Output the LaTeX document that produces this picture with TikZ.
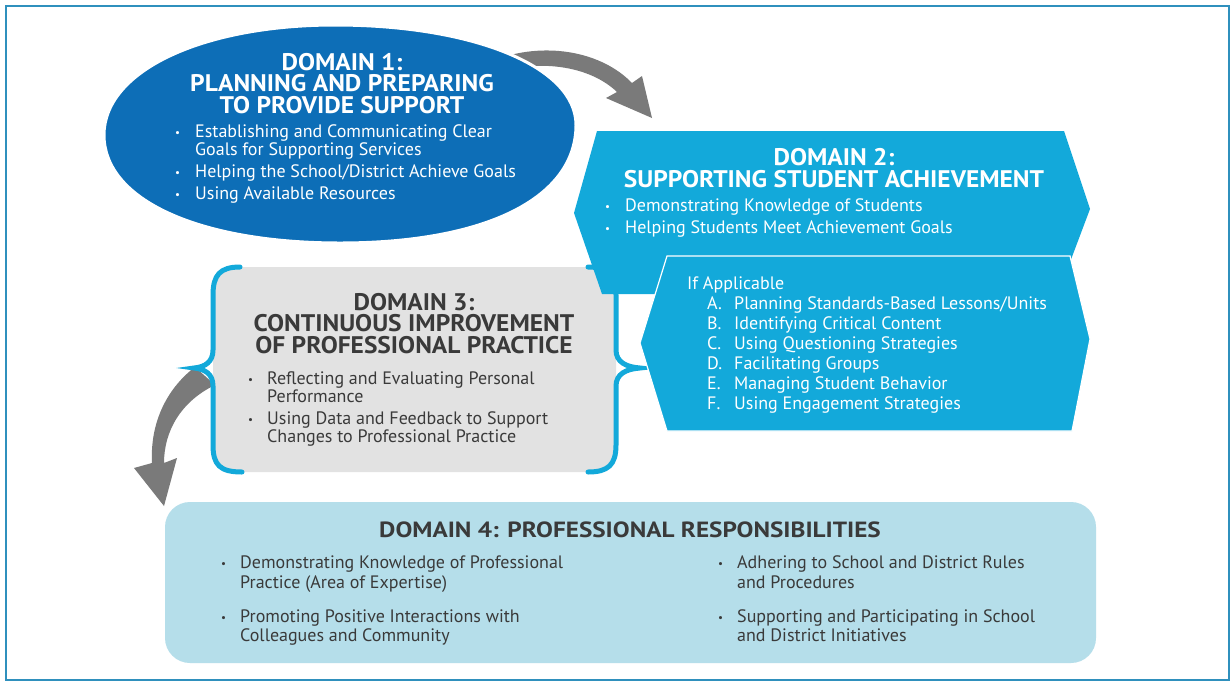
\documentclass[tikz,border=0pt]{standalone}
\usepackage{fontspec}
\setmainfont{PT Sans}
\newfontfamily\ttlfont[FakeStretch=1.06]{PT Sans}
\newfontfamily\ttlfontw[FakeStretch=1.145]{PT Sans}
\definecolor{dblue}{HTML}{0D6EB7}
\definecolor{dcyan}{HTML}{13A9DA}
\definecolor{dgray}{HTML}{E2E2E2}
\definecolor{dlight}{HTML}{B5DEEA}
\definecolor{agray}{HTML}{7A7A7A}
\definecolor{frameblue}{HTML}{2F90BD}
\definecolor{dtext}{HTML}{3A3A3A}
\newcommand\bul[1]{\makebox[#1][l]{\raisebox{0.3pt}{\fontsize{11}{11}\selectfont\textbullet}}}
\newcommand\lett[1]{\makebox[27pt][l]{#1}}
\begin{document}
\begin{tikzpicture}[x=1pt,y=-1pt,
  ttl/.style={inner sep=0pt, anchor=base, align=center,
    font=\ttlfont\bfseries\fontsize{24}{21.6}\selectfont},
  bod/.style={inner sep=0pt, anchor=west, text height=10.5pt, text depth=0pt,
    font=\fontsize{18}{18}\selectfont},
  ttlw/.style={ttl, text=white},
  bodw/.style={bod, text=white},
  ttld/.style={ttl, text=dtext},
  bodd/.style={bod, text=dtext},
  ttlf/.style={ttld, font=\ttlfontw\bfseries\fontsize{22}{22}\selectfont},
  bodf/.style={bodd},
  brace/.style={draw=dcyan, line width=5pt, line cap=round}
]
\useasboundingbox (0,0) rectangle (1231,681);
\fill[white] (0,0) rectangle (1231,681);
\draw[frameblue, line width=1.5pt] (6,6) rectangle (1229,680);

% arrows (drawn beneath the shapes they leave)
\fill[agray] (500,58) .. controls (548,42) and (602,52) .. (632,83)
  -- (642,76) -- (652,118) -- (606,98) -- (617,92)
  .. controls (592,68) and (548,60) .. (504,70) -- cycle;
\fill[agray] (195,367) .. controls (165,390) and (150,425) .. (152,463)
  -- (134,468) -- (164,506) -- (177,458) -- (164,463)
  .. controls (164,432) and (180,402) .. (215,385) -- cycle;

% Domain 1 ellipse
\path[fill=dblue, draw=white, line width=3pt]
  (104,135) .. controls (104,71) and (202,25) .. (335,25)
  .. controls (474,25) and (576,67) .. (576,125)
  .. controls (576,198) and (486,243) .. (340,243)
  .. controls (199,243) and (104,200) .. (104,135) -- cycle;

% Domain 3 box with braces
\fill[dgray, rounded corners=22pt] (213,267) rectangle (616,472);
\draw[brace] (240,267) .. controls (220,267) and (213,275) .. (213,295) -- (213,350)
  .. controls (213,362) and (205,367) .. (194,368)
  .. controls (205,369) and (213,374) .. (213,386) -- (213,445)
  .. controls (213,465) and (220,472) .. (242,472);
\draw[brace] (588,267) .. controls (608,267) and (616,275) .. (616,295) -- (616,350)
  .. controls (616,362) and (626,367) .. (640,368)
  .. controls (626,369) and (616,374) .. (616,386) -- (616,445)
  .. controls (616,465) and (608,472) .. (588,472);

% Domain 2 hexagons
\fill[dcyan] (597,131) -- (1064,131) -- (1090,209) -- (1058,294) -- (602,294) -- (574,213) -- cycle;
\filldraw[fill=dcyan, draw=white, line width=1.2pt]
  (667,256) -- (1070,256) -- (1090,339) -- (1072,431) -- (667,431) -- (640,343) -- cycle;

% Domain 4 box
\fill[dlight, rounded corners=25pt] (165,502) rectangle (1096,663);

% Domain 1 text
\node[ttlw] (d1t) at (342,113.5) {DOMAIN 1:\\PLANNING AND PREPARING\\TO PROVIDE SUPPORT};
\node[bodw] (d1d) at (175,132) {\bul{20pt}Establishing and Communicating Clear};
\node[bodw] (d1e) at (195,150) {Goals for Supporting Services};
\node[bodw] (d1f) at (175,172) {\bul{20pt}Helping the School/District Achieve Goals};
\node[bodw] (d1g) at (175,194) {\bul{20pt}Using Available Resources};

% Domain 2 text
\node[ttlw] (d2t) at (834,187.5) {DOMAIN 2:\\SUPPORTING STUDENT ACHIEVEMENT};
\node[bodw] (d2c) at (605,206) {\bul{20pt}Demonstrating Knowledge of Students};
\node[bodw] (d2d) at (605,228) {\bul{20pt}Helping Students Meet Achievement Goals};
\node[bodw] (d2e) at (687,284) {If Applicable};
\node[bodw] (d2f) at (707,304) {\lett{A.}Planning Standards-Based Lessons/Units};
\node[bodw] (d2g) at (707,324) {\lett{B.}Identifying Critical Content};
\node[bodw] (d2h) at (707,344) {\lett{C.}Using Questioning Strategies};
\node[bodw] (d2i) at (707,364) {\lett{D.}Facilitating Groups};
\node[bodw] (d2j) at (707,384) {\lett{E.}Managing Student Behavior};
\node[bodw] (d2k) at (707,404) {\lett{F.}Using Engagement Strategies};

% Domain 3 text
\node[ttld] (d3t) at (414,353.5) {DOMAIN 3:\\CONTINUOUS IMPROVEMENT\\OF PROFESSIONAL PRACTICE};
\node[bodd] (d3d) at (248,379) {\bul{19pt}Reflecting and Evaluating Personal};
\node[bodd] (d3e) at (267,397) {Performance};
\node[bodd] (d3f) at (248,419) {\bul{19pt}Using Data and Feedback to Support};
\node[bodd] (d3g) at (267,437) {Changes to Professional Practice};

% Domain 4 text
\node[ttlf] (d4a) at (630,537.5) {DOMAIN 4: PROFESSIONAL RESPONSIBILITIES};
\node[bodf] (d4b) at (221,563) {\bul{19pt}Demonstrating Knowledge of Professional};
\node[bodf] (d4c) at (240,583) {Practice (Area of Expertise)};
\node[bodf] (d4d) at (221,617) {\bul{19pt}Promoting Positive Interactions with};
\node[bodf] (d4e) at (240,636) {Colleagues and Community};
\node[bodf] (d4f) at (718,563) {\bul{19pt}Adhering to School and District Rules};
\node[bodf] (d4g) at (737,583) {and Procedures};
\node[bodf] (d4h) at (718,617) {\bul{19pt}Supporting and Participating in School};
\node[bodf] (d4i) at (737,636) {and District Initiatives};
\end{tikzpicture}
\end{document}
